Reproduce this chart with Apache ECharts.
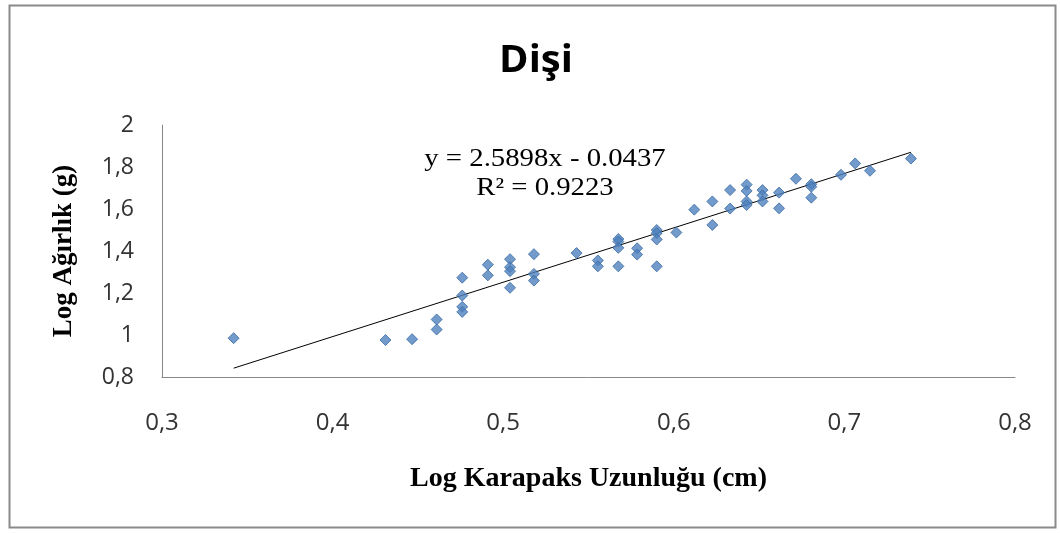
<!DOCTYPE html>
<html>
<head>
<meta charset="utf-8">
<script src="https://cdn.jsdelivr.net/npm/echarts@6/dist/echarts.min.js"></script>
<style>html,body{margin:0;padding:0;background:#fff}#c{width:1060px;height:533px}</style>
</head>
<body>
<div id="c"></div>
<script>
const xValues = [0.342,0.431,0.4466,0.461,0.461,0.476,0.476,0.476,0.476,0.491,0.491,0.504,0.504,0.504,0.504,0.518,0.518,0.518,0.543,0.5555,0.5555,0.5675,0.5675,0.5675,0.5675,0.5785,0.5785,0.590,0.590,0.590,0.590,0.6015,0.612,0.6226,0.6226,0.633,0.633,0.6427,0.6427,0.6427,0.6427,0.652,0.652,0.652,0.6617,0.6617,0.6716,0.6806,0.6806,0.6806,0.698,0.7063,0.715,0.739];
const yValues = [0.985,0.976,0.980,1.074,1.026,1.273,1.188,1.134,1.110,1.335,1.284,1.361,1.323,1.304,1.225,1.385,1.291,1.259,1.390,1.355,1.327,1.457,1.445,1.415,1.327,1.413,1.383,1.500,1.485,1.455,1.327,1.488,1.597,1.636,1.524,1.690,1.602,1.716,1.686,1.636,1.619,1.690,1.665,1.636,1.678,1.603,1.744,1.718,1.706,1.654,1.763,1.817,1.782,1.840];
const slope = 2.5898, intercept = -0.0437;
const r2 = 0.9223;
const titleText = 'Dişi';
const xTitle = 'Log Karapaks Uzunluğu (cm)';
const yTitle = 'Log Ağırlık (g)';

const points = xValues.map((x, i) => [x, yValues[i]]);
const xMin = Math.min(...xValues), xMax = Math.max(...xValues);
const trend = [[xMin, slope * xMin + intercept], [xMax, slope * xMax + intercept]];
const fmt = v => String(Number(v.toFixed(1))).replace('.', ',');

const chart = echarts.init(document.getElementById('c'));
chart.setOption({
  animation: false,
  backgroundColor: '#fff',
  grid: { left: 162, right: 45, top: 125, bottom: 156 },
  xAxis: {
    type: 'value', min: 0.3, max: 0.8, interval: 0.1,
    name: xTitle, nameLocation: 'middle', nameGap: 88,
    nameTextStyle: { fontFamily: 'Liberation Serif', fontWeight: 'bold', fontSize: 28, color: '#000' },
    axisLine: { show: true, lineStyle: { color: '#888', width: 1 } },
    axisTick: { show: false },
    splitLine: { show: false },
    axisLabel: { formatter: fmt, fontFamily: 'Open Sans', fontSize: 24, color: '#333', margin: 34 }
  },
  yAxis: {
    type: 'value', min: 0.8, max: 2, interval: 0.2,
    name: yTitle, nameLocation: 'middle', nameGap: 84, nameRotate: 90,
    nameTextStyle: { fontFamily: 'Liberation Serif', fontWeight: 'bold', fontSize: 27, color: '#000' },
    axisLine: { show: true, lineStyle: { color: '#888', width: 1 } },
    axisTick: { show: false },
    splitLine: { show: false },
    axisLabel: { formatter: fmt, fontFamily: 'Open Sans', fontSize: 23, color: '#333', margin: 28 }
  },
  series: [
    {
      type: 'line', data: trend, symbol: 'none', silent: true, z: 1,
      lineStyle: { color: '#000', width: 1 }
    },
    {
      type: 'scatter', data: points, symbol: 'diamond', symbolSize: 11, z: 2,
      itemStyle: { color: '#4F81BD', borderColor: '#3A6BA5', borderWidth: 1 }
    }
  ],
  graphic: [
    { type: 'rect', left: 7, top: 3, shape: { width: 1046, height: 522 }, style: { fill: 'none', stroke: '#8a8a8a', lineWidth: 2 }, silent: true },
    { type: 'text', x: 536, y: 61, scaleX: 1.08, style: { text: titleText, fontFamily: 'Open Sans', fontWeight: 'bold', fontSize: 37, fill: '#000', align: 'center', verticalAlign: 'middle' } },
    { type: 'text', x: 545, y: 159, scaleX: 1.15, style: { text: 'y = ' + slope + 'x - ' + Math.abs(intercept), fontFamily: 'Liberation Serif', fontSize: 25, fill: '#000', align: 'center', verticalAlign: 'middle' } },
    { type: 'text', x: 545, y: 188, scaleX: 1.15, style: { text: 'R² = ' + r2, fontFamily: 'Liberation Serif', fontSize: 25, fill: '#000', align: 'center', verticalAlign: 'middle' } }
  ]
});
</script>
</body>
</html>
